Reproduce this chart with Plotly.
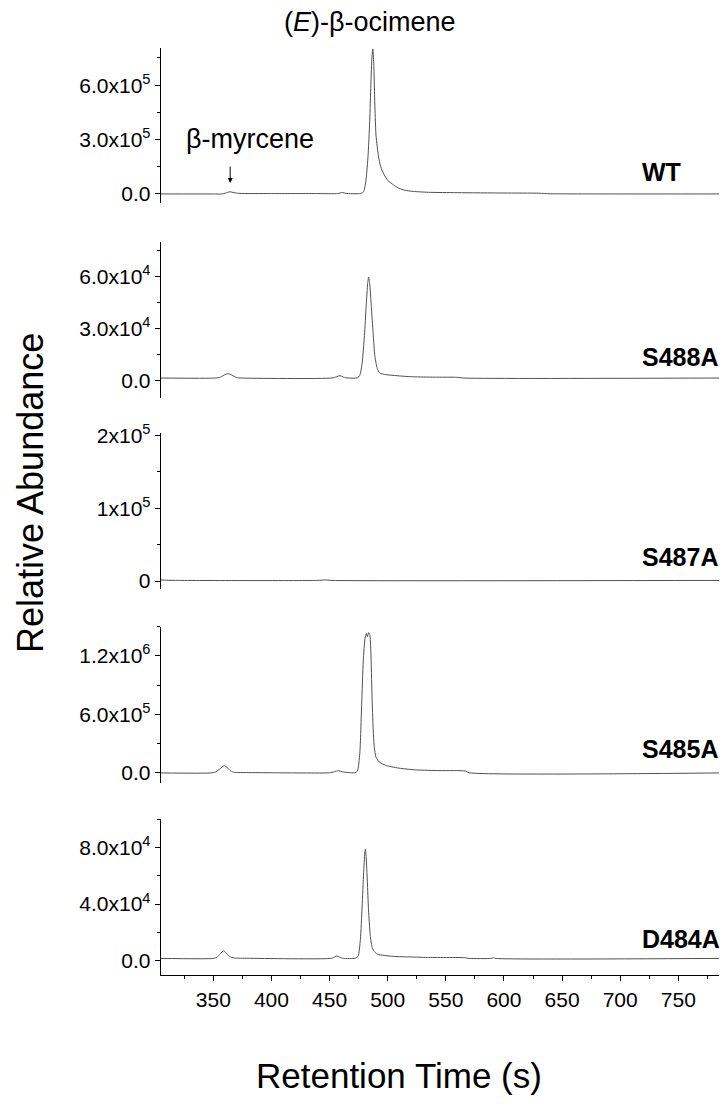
import plotly.graph_objects as go

# ---------------- data ----------------
# WT  (abundance in units of 1e5)
wt_t = [305, 350, 358, 362, 364.5, 367, 372, 400, 440, 457, 461, 464, 476, 479, 481, 483,
        484.5, 485.5, 486.5, 487.2, 488, 489, 490, 492, 494, 497, 500, 505, 510, 515, 522,
        535, 560, 600, 630, 640, 700, 785]
wt_v = [0.0, 0.0, 0.0, 0.08, 0.12, 0.08, 0.03, 0.02, 0.02, 0.02, 0.08, 0.03, 0.02, 0.1, 0.6, 2.0,
        4.0, 6.0, 7.6, 8.0, 7.2, 4.8, 3.2, 2.1, 1.5, 1.05, 0.75, 0.5, 0.3, 0.2, 0.14,
        0.09, 0.07, 0.05, 0.04, 0.01, 0.0, 0.0]

# S488A (units of 1e4)
s488_t = [305, 352, 356, 360, 363, 366, 370, 374, 452, 456, 459, 462, 466, 474, 476, 478, 480,
          481.5, 482.8, 483.6, 484.5, 486, 487.5, 489, 491, 493, 497, 502, 510, 522, 540, 560,
          565, 785]
s488_v = [0.15, 0.15, 0.2, 0.35, 0.4, 0.32, 0.18, 0.15, 0.15, 0.22, 0.29, 0.2, 0.15, 0.16, 0.3,
          1.0, 2.6, 4.3, 5.6, 5.96, 5.6, 4.2, 2.7, 1.4, 0.7, 0.45, 0.36, 0.32, 0.27, 0.22, 0.2,
          0.19, 0.15, 0.15]

# S487A (units of 1e5)
s487_t = [305, 310, 320, 440, 446, 452, 785]
s487_v = [0.015, 0.01, 0.008, 0.008, 0.015, 0.008, 0.008]

# S485A (units of 1e5)
s485_t = [305, 348, 352, 356, 359.5, 362, 365, 368, 380, 400, 450, 454, 457.8, 461, 466, 472,
          474, 476, 477.6, 479, 480.5, 481.7, 482.6, 483.6, 484.6, 485.5, 486.5, 487.5, 488.5,
          490, 493, 499, 511, 525, 545, 567, 570, 785]
s485_v = [0.0, 0.0, 0.1, 0.45, 0.75, 0.55, 0.2, 0.06, 0.04, 0.02, 0.02, 0.12, 0.24, 0.12, 0.04,
          0.02, 0.2, 2.0, 7.0, 11.5, 13.8, 14.3, 14.0, 14.4, 14.2, 12.5, 8.0, 4.5, 2.6, 1.6,
          1.1, 0.75, 0.47, 0.31, 0.24, 0.2, 0.02, 0.0]

# D484A (units of 1e4)
d484_t = [305, 350, 353, 356, 358.9, 361, 364, 368, 380, 452, 454.5, 456.4, 458.5, 462, 472,
          474.5, 476.5, 478, 479.3, 480.3, 480.8, 481.5, 482.5, 483.5, 485, 486.5, 488, 491,
          497, 505, 520, 534, 566, 570, 589, 591, 593, 785]
d484_v = [0.17, 0.17, 0.25, 0.5, 0.7, 0.55, 0.3, 0.2, 0.18, 0.18, 0.28, 0.35, 0.25, 0.17, 0.18,
          0.3, 1.5, 3.8, 6.2, 7.6, 7.86, 7.3, 5.6, 3.6, 1.8, 1.0, 0.7, 0.47, 0.38, 0.31, 0.27,
          0.24, 0.22, 0.17, 0.17, 0.22, 0.17, 0.17]

samples = ["WT", "S488A", "S487A", "S485A", "D484A"]
scales = [1e5, 1e4, 1e5, 1e5, 1e4]
series_t = [wt_t, s488_t, s487_t, s485_t, d484_t]
series_v = [wt_v, s488_v, s487_v, s485_v, d484_v]

y_ranges = [[-0.5e5, 8.05e5], [-1.0e4, 8.0e4], [-1.1e4, 2.03e5], [-1.0e5, 1.5e6], [-1.0e4, 1.0e5]]
y_tickvals = [[0, 3e5, 6e5], [0, 3e4, 6e4], [0, 1e5, 2e5], [0, 6e5, 1.2e6], [0, 4e4, 8e4]]
y_ticktext = [["0.0", "3.0x10<sup>5</sup>", "6.0x10<sup>5</sup>"],
              ["0.0", "3.0x10<sup>4</sup>", "6.0x10<sup>4</sup>"],
              ["0", "1x10<sup>5</sup>", "2x10<sup>5</sup>"],
              ["0.0", "6.0x10<sup>5</sup>", "1.2x10<sup>6</sup>"],
              ["0.0", "4.0x10<sup>4</sup>", "8.0x10<sup>4</sup>"]]
y_minor = [1.5e5, 1.5e4, 0.5e5, 3e5, 2e4]

x_tickvals = [350, 400, 450, 500, 550, 600, 650, 700, 750]

# ---------------- layout geometry ----------------
W, H = 724, 1108
L, R, T, B = 161, 5, 48, 133
plot_h = H - T - B
panel_px = [(48, 203), (241.7, 398), (433.3, 589), (626.7, 782.7), (819, 975)]
label_px = [172, 357, 557, 749, 939]


def py(pix):
    return (H - B - pix) / plot_h


def px(pix):
    return (pix - L) / (W - L - R)


FONT = "Liberation Sans, Arial, sans-serif"

fig = go.Figure()
for i in range(5):
    yname = "y" if i == 0 else f"y{i+1}"
    fig.add_trace(go.Scatter(
        x=series_t[i], y=[v * scales[i] for v in series_v[i]],
        mode="lines", line=dict(color="#505050", width=1, shape="spline", smoothing=0.6),
        xaxis="x", yaxis=yname, showlegend=False, hoverinfo="skip"))

layout = dict(
    width=W, height=H,
    margin=dict(l=L, r=R, t=T, b=B),
    plot_bgcolor="white", paper_bgcolor="white",
    font=dict(family=FONT, color="black"),
    xaxis=dict(range=[305, 785], domain=[0, 1], anchor="y5",
               showline=True, linecolor="black", linewidth=1.3, mirror=False,
               showgrid=False, zeroline=False,
               tickmode="array", tickvals=x_tickvals,
               ticks="outside", ticklen=5, tickwidth=1, tickcolor="black",
               tickfont=dict(size=21, family=FONT),
               minor=dict(dtick=25, tick0=0, ticks="outside", ticklen=3, tickcolor="black", showgrid=False)),
)

for i in range(5):
    key = "yaxis" if i == 0 else f"yaxis{i+1}"
    top, bot = panel_px[i]
    layout[key] = dict(
        domain=[py(bot), py(top)], range=y_ranges[i], anchor="x",
        showline=True, linecolor="black", linewidth=1.3,
        showgrid=False, zeroline=False,
        tickmode="array", tickvals=y_tickvals[i], ticktext=y_ticktext[i],
        ticks="outside", ticklen=5, tickwidth=1, tickcolor="black",
        tickfont=dict(size=21, family=FONT),
        minor=dict(dtick=y_minor[i], tick0=0, ticks="outside", ticklen=3, tickcolor="black", showgrid=False),
    )

fig.update_layout(**layout)

ann = []
for i in range(5):
    ann.append(dict(text=f"<b>{samples[i]}</b>", xref="paper", yref="paper",
                    x=px(640), y=py(label_px[i]),
                    xanchor="left", yanchor="middle", showarrow=False,
                    font=dict(size=25, family=FONT, color="black")))

ann.append(dict(text="(<i>E</i>)-β-ocimene", xref="paper", yref="paper",
                x=px(370), y=py(22), xanchor="center", yanchor="middle",
                showarrow=False, font=dict(size=27, family=FONT, color="black")))
ann.append(dict(text="β-myrcene", xref="paper", yref="paper",
                x=px(250), y=py(139), xanchor="center", yanchor="middle",
                showarrow=False, font=dict(size=27, family=FONT, color="black")))
ann.append(dict(text="", xref="x", yref="y", x=364.5, y=0.6e5, ax=0, ay=-18,
                showarrow=True, arrowhead=2, arrowsize=1, arrowwidth=1, arrowcolor="black"))
ann.append(dict(text="Relative Abundance", xref="paper", yref="paper",
                x=px(30), y=py(493), xanchor="center", yanchor="middle",
                textangle=-90, showarrow=False, font=dict(size=36, family=FONT, color="black")))
ann.append(dict(text="Retention Time (s)", xref="paper", yref="paper",
                x=px(399), y=py(1075), xanchor="center", yanchor="middle",
                showarrow=False, font=dict(size=35, family=FONT, color="black")))
fig.update_layout(annotations=ann)

fig.write_html("out.html",
               config={"displayModeBar": False, "staticPlot": True},
               post_script="document.body.style.margin='0';document.body.style.padding='0';"
                           "document.body.style.overflow='hidden';")
